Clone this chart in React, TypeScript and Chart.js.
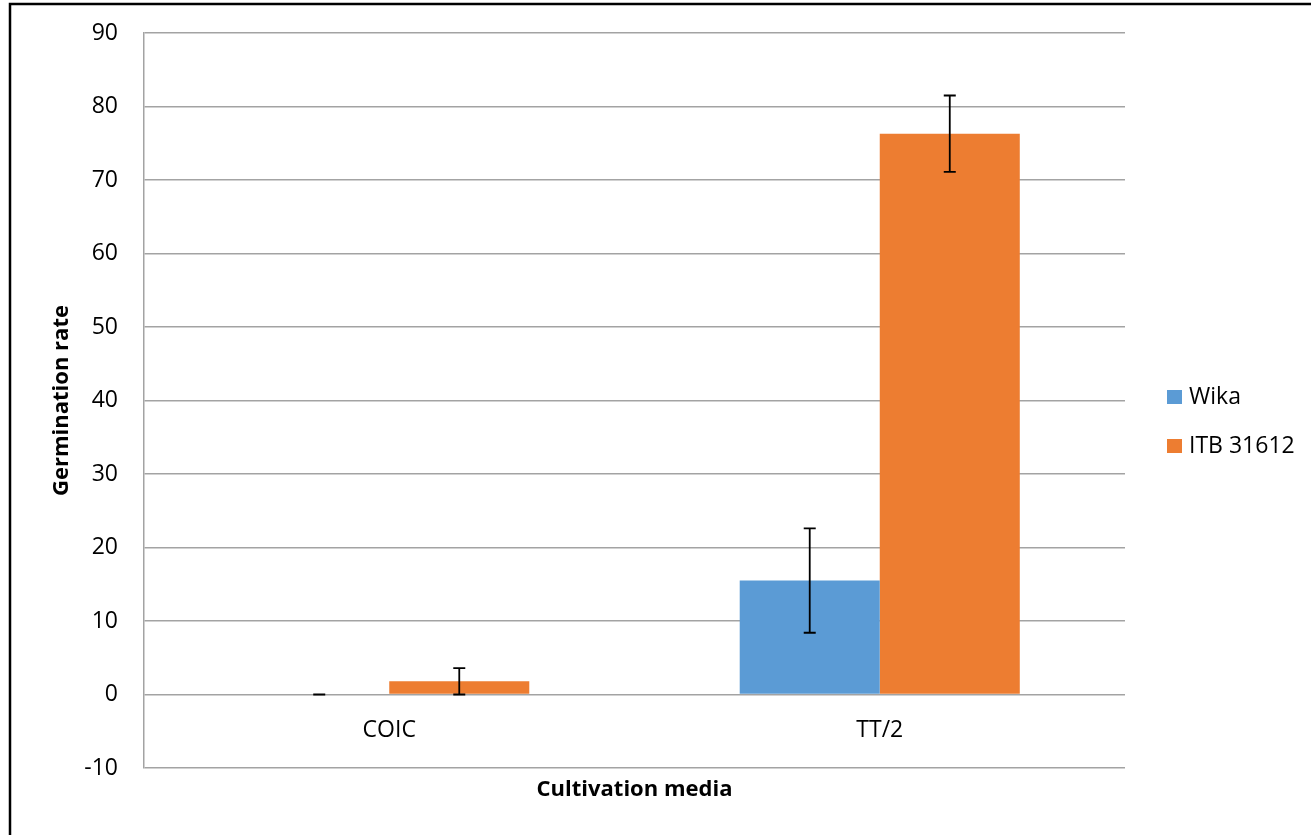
import React, { useEffect, useRef } from "react";
import { Chart, registerables } from "chart.js";

Chart.register(...registerables);

const categories = ["COIC", "TT/2"];
const wikaValues = [0, 15.5];
const wikaErrors = [0, 7.1];
const itbValues = [1.8, 76.3];
const itbErrors = [1.8, 5.2];
const seriesNames = ["Wika", "ITB 31612"];
const seriesColors = ["#5B9BD5", "#ED7D31"];
const yMin = -10;
const yMax = 90;
const yStep = 10;
const yTitle = "Germination rate";
const xTitle = "Cultivation media";

const FONT = "'Open Sans', sans-serif";
const GRID = "#a3a3a3";

const errorsBySeries = [wikaErrors, itbErrors];

const backgroundPlugin = {
  id: "bgFrame",
  beforeDraw(chart: any) {
    const { ctx, width, height } = chart;
    ctx.save();
    ctx.fillStyle = "#ffffff";
    ctx.fillRect(0, 0, width, height);
    ctx.strokeStyle = "#000000";
    ctx.lineWidth = 2.5;
    ctx.beginPath();
    ctx.moveTo(10, height + 10);
    ctx.lineTo(10, 4);
    ctx.lineTo(width + 10, 4);
    ctx.stroke();
    ctx.restore();
  },
};

const errorBarPlugin = {
  id: "errorBars",
  afterDatasetsDraw(chart: any) {
    const { ctx } = chart;
    const yScale = chart.scales.y;
    ctx.save();
    ctx.strokeStyle = "#000000";
    ctx.lineWidth = 1.8;
    chart.data.datasets.forEach((ds: any, di: number) => {
      const meta = chart.getDatasetMeta(di);
      const errs = errorsBySeries[di];
      meta.data.forEach((bar: any, i: number) => {
        const v = ds.data[i];
        const e = errs[i];
        const x = bar.x;
        const yTop = yScale.getPixelForValue(v + e);
        const yBot = yScale.getPixelForValue(v - e);
        const cap = 6;
        ctx.beginPath();
        ctx.moveTo(x, yTop);
        ctx.lineTo(x, yBot);
        ctx.moveTo(x - cap, yTop);
        ctx.lineTo(x + cap, yTop);
        ctx.moveTo(x - cap, yBot);
        ctx.lineTo(x + cap, yBot);
        ctx.stroke();
      });
    });
    ctx.restore();
  },
};

const labelsPlugin = {
  id: "catLabels",
  afterDraw(chart: any) {
    const { ctx } = chart;
    const xScale = chart.scales.x;
    const yScale = chart.scales.y;
    const y = yScale.getPixelForValue(0) + 36;
    ctx.save();
    ctx.fillStyle = "#000000";
    ctx.font = `23px ${FONT}`;
    ctx.textAlign = "center";
    ctx.textBaseline = "middle";
    categories.forEach((c, i) => {
      ctx.fillText(c, xScale.getPixelForValue(i), y);
    });
    // legend
    const area = chart.chartArea;
    const lx = area.right + 42;
    const centers = [397, 446];
    seriesNames.forEach((name, i) => {
      const cy = centers[i];
      ctx.fillStyle = seriesColors[i];
      ctx.fillRect(lx, cy - 7, 15, 14);
      ctx.fillStyle = "#000000";
      ctx.textAlign = "left";
      ctx.fillText(name, lx + 22, cy);
    });
    ctx.restore();
  },
};

export default function App() {
  const ref = useRef<HTMLCanvasElement | null>(null);
  useEffect(() => {
    if (!ref.current) return;
    const chart = new Chart(ref.current, {
      type: "bar",
      data: {
        labels: categories,
        datasets: [
          {
            label: seriesNames[0],
            data: wikaValues,
            backgroundColor: seriesColors[0],
            categoryPercentage: 0.571,
            barPercentage: 1,
          },
          {
            label: seriesNames[1],
            data: itbValues,
            backgroundColor: seriesColors[1],
            categoryPercentage: 0.571,
            barPercentage: 1,
          },
        ],
      },
      options: {
        animation: false,
        responsive: false,
        maintainAspectRatio: false,
        layout: { padding: { top: 33, right: 186, bottom: 0, left: 0 } },
        plugins: {
          legend: { display: false },
          tooltip: { enabled: false },
        },
        scales: {
          x: {
            grid: { display: false },
            border: { display: false },
            ticks: { display: false },
            title: {
              display: true,
              text: xTitle,
              color: "#000000",
              font: { family: FONT, size: 22, weight: "bold" },
              padding: { top: 0, bottom: 32 },
            },
            afterFit(scale: any) {
              scale.height = 67;
            },
          },
          y: {
            min: yMin,
            max: yMax,
            ticks: {
              stepSize: yStep,
              color: "#000000",
              font: { family: FONT, size: 23 },
              padding: 26,
            },
            grid: { color: GRID, lineWidth: 1.5, drawTicks: false },
            border: { display: true, color: GRID, width: 1.5 },
            title: {
              display: true,
              text: yTitle,
              color: "#000000",
              font: { family: FONT, size: 22, weight: "bold" },
              padding: { top: 49, bottom: 0 },
            },
            afterFit(scale: any) {
              scale.width = 144;
              scale.paddingTop = 0;
              scale.paddingBottom = 0;
            },
          },
        },
      },
      plugins: [backgroundPlugin, errorBarPlugin, labelsPlugin],
    });
    return () => chart.destroy();
  }, []);
  return (
    <div style={{ position: "absolute", left: 0, top: 0, width: 1311, height: 835 }}>
      <canvas ref={ref} width={1311} height={835} style={{ width: 1311, height: 835, display: "block" }} />
    </div>
  );
}
